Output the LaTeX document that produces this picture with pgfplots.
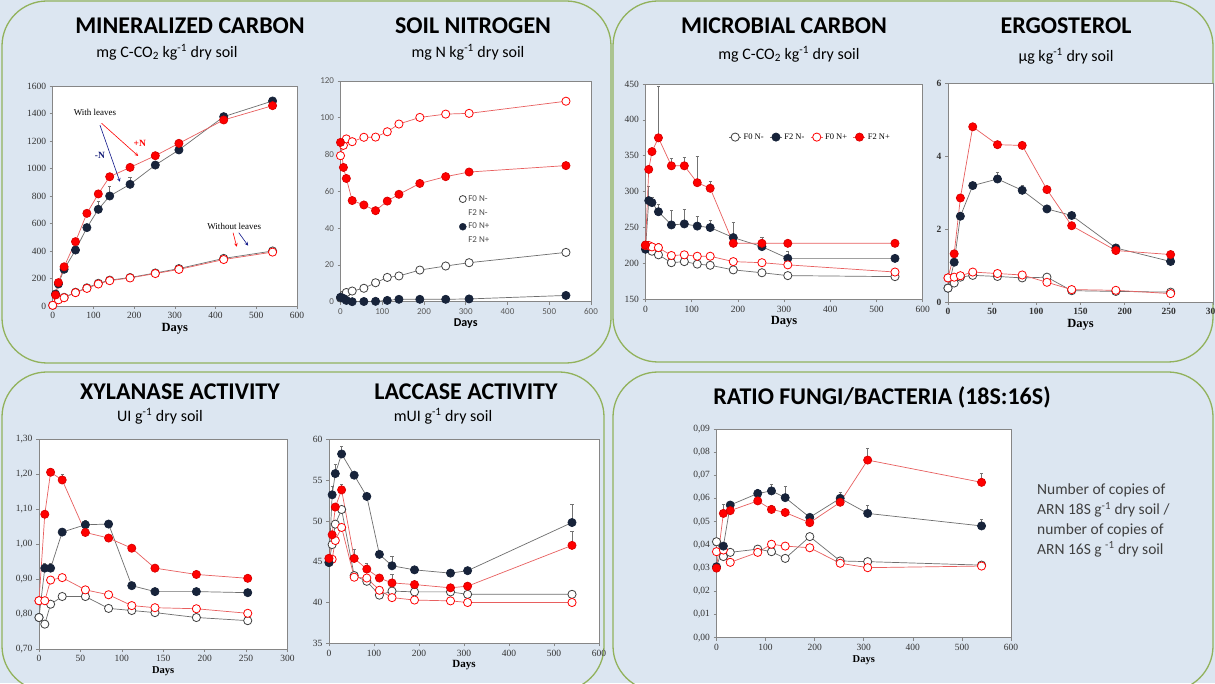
\documentclass[border=0pt]{standalone}
\usepackage{fontspec}
\setmainfont{Liberation Serif}
\newfontfamily\calibri{Carlito}
\usepackage{pgfplots}
\pgfplotsset{compat=1.18}
\definecolor{bg}{RGB}{220,230,241}
\definecolor{frame}{RGB}{146,178,92}
\definecolor{navy}{RGB}{23,35,58}
\definecolor{myred}{RGB}{255,0,0}
\definecolor{redline}{RGB}{232,95,95}
\definecolor{grayline}{RGB}{110,110,110}
\definecolor{axgray}{RGB}{134,134,134}
\pgfplotsset{
  base/.style={scale only axis, clip=false, axis background/.style={fill=white},
    axis line style={axgray, line width=0.8pt}, tick style={axgray, line width=0.6pt},
    tick align=outside, major tick length=3pt, xtick pos=left, ytick pos=left,
    ticklabel style={font=\fontsize{9.5}{10}\selectfont, text=black!80},
    /pgf/number format/assume math mode=true,
    xlabel={Days}, xlabel style={font=\fontsize{12.5}{13}\selectfont\bfseries, inner sep=1pt}},
  commanum/.style={scaled y ticks=false, yticklabel style={/pgf/number format/fixed, /pgf/number format/fixed zerofill, /pgf/number format/precision=2, /pgf/number format/use comma}},
  sO/.style={grayline, line width=0.7pt, mark=*, mark size=4.1pt, mark options={solid, fill=white, draw=black!75, line width=0.8pt}},
  sF/.style={grayline, line width=0.7pt, mark=*, mark size=4.1pt, mark options={solid, fill=navy, draw=navy}},
  rO/.style={redline, line width=0.7pt, mark=*, mark size=4.1pt, mark options={solid, fill=white, draw=myred, line width=0.8pt}},
  rF/.style={redline, line width=0.7pt, mark=*, mark size=4.1pt, mark options={solid, fill=myred, draw=myred!85!black}},
  eb/.style={forget plot, only marks, mark=none, error bars/.cd, y dir=plus, y explicit,
    error bar style={black!55, line width=0.6pt, solid},
    error mark options={rotate=90, mark size=1.6pt, black!55, line width=0.6pt}},
}
\begin{document}
\begin{tikzpicture}[x=1pt,y=1pt]
\fill[bg] (0,0) rectangle (1215,683);
\draw[frame, line width=1.3pt, rounded corners=45pt] (2,320) rectangle (611,682);
\draw[frame, line width=1.3pt, rounded corners=45pt] (613,321) rectangle (1213,682);
\draw[frame, line width=1.3pt, rounded corners=45pt] (2,-8) rectangle (604,311);
\draw[frame, line width=1.3pt, rounded corners=45pt] (613,-8) rectangle (1213,311);

% titles
\begin{scope}[every node/.style={font=\calibri\bfseries\fontsize{24}{24}\selectfont, inner sep=0pt}]
\node at (190,657) {MINERALIZED CARBON};
\node at (473,657) {SOIL NITROGEN};
\node at (784,657) {MICROBIAL CARBON};
\node at (1066,657) {ERGOSTEROL};
\node at (180,291) {XYLANASE ACTIVITY};
\node at (466,291) {LACCASE ACTIVITY};
\node at (882,286) {RATIO FUNGI/BACTERIA (18S:16S)};
\end{scope}
\begin{scope}[every node/.style={font=\calibri\fontsize{16}{16}\selectfont, inner sep=0pt}]
\node at (167,631) {mg C-CO\textsubscript{2} kg\textsuperscript{-1} dry soil};
\node at (468,631) {mg N kg\textsuperscript{-1} dry soil};
\node at (789,629) {mg C-CO\textsubscript{2} kg\textsuperscript{-1} dry soil};
\node at (1066,627) {µg kg\textsuperscript{-1} dry soil};
\node at (160,267) {UI g\textsuperscript{-1} dry soil};
\node at (443,267) {mUI g\textsuperscript{-1} dry soil};
\end{scope}
\node[anchor=north west, align=left, inner sep=0pt, text=black!75, font=\calibri\fontsize{15.5}{19.7}\selectfont] at (1037,199) {Number of copies of\\ARN 18S g\textsuperscript{-1} dry soil /\\number of copies of\\ARN 16S g \textsuperscript{-1} dry soil};

% ---------- P1 Mineralized carbon
\begin{axis}[base, at={(52.7pt,377pt)}, anchor=south west, width=244.3pt, height=220pt,
  xmin=0, xmax=600, ymin=0, ymax=1600, xtick={0,100,...,600}, ytick={0,200,...,1600},
  /pgf/number format/1000 sep={}]
\addplot[eb] coordinates {(112,703) +- (0,56) (140,800) +- (0,68) (190,885) +- (0,50)};
\addplot[sO] coordinates {(0,5) (14,48) (28,63) (56,100) (84,132) (112,165) (140,188) (190,207) (252,240) (310,272) (420,346) (540,400)};
\addplot[rO] coordinates {(0,5) (14,45) (28,60) (56,97) (84,128) (112,160) (140,184) (190,204) (252,236) (310,266) (420,338) (540,392)};
\addplot[sF] coordinates {(7,87) (14,160) (28,267) (56,407) (84,570) (112,703) (140,800) (190,885) (252,1025) (310,1135) (420,1377) (540,1491)};
\addplot[rF] coordinates {(7,80) (14,170) (28,285) (56,468) (84,674) (112,815) (140,940) (190,1008) (252,1093) (310,1183) (420,1353) (540,1457)};
\node[font=\fontsize{9}{10}\selectfont] at (axis cs:104,1404) {With leaves};
\node[font=\fontsize{9.5}{10}\selectfont\bfseries, text=myred] at (axis cs:214,1183) {+N};
\node[font=\fontsize{9.5}{10}\selectfont\bfseries, text=navy!70!blue] at (axis cs:116,1093) {-N};
\draw[->, >=stealth, navy!60!blue, line width=0.6pt] (axis cs:116,1316) -- (axis cs:165,904);
\draw[->, >=stealth, myred, line width=0.6pt] (axis cs:120,1329) -- (axis cs:210,1091);
\node[font=\fontsize{9}{10}\selectfont] at (axis cs:446,577) {Without leaves};
\draw[->, >=stealth, myred, line width=0.6pt] (axis cs:443,533) -- (axis cs:452,431);
\draw[->, >=stealth, navy!60!blue, line width=0.6pt] (axis cs:457,533) -- (axis cs:480,439);
\end{axis}

% ---------- P2 Soil nitrogen
\begin{axis}[base, at={(340.5pt,381.3pt)}, anchor=south west, width=250.5pt, height=220.7pt,
  xmin=0, xmax=600, ymin=0, ymax=120, xtick={0,100,...,600}, ytick={0,20,...,120},
  ticklabel style={font=\calibri\fontsize{9}{10}\selectfont, text=black!65},
  xlabel style={font=\calibri\bfseries\fontsize{12}{13}\selectfont},
  legend cell align=left,
  legend style={at={(axis cs:272,59)}, anchor=north west, draw=none, fill=none,
    font=\calibri\fontsize{9}{10}\selectfont, text=black!70, row sep=2.5pt, inner sep=0pt}]
\addplot[rO, forget plot] coordinates {(0,79.4) (7,85) (14,88.5) (28,87) (56,89.4) (84,89.5) (112,92.4) (140,96.6) (190,100.2) (252,102) (308,102.4) (540,109)};
\addplot[rF, forget plot] coordinates {(0,86.6) (7,73) (14,67) (28,55) (56,52.6) (84,49.5) (112,54.7) (140,58.4) (190,64.3) (252,68) (308,70.5) (540,74)};
\addplot[sO, forget plot] coordinates {(0,2) (7,3.6) (14,5) (28,5.8) (56,7.3) (84,10.3) (112,13.2) (140,14) (190,17.2) (252,19.4) (308,21.2) (540,26.8)};
\addplot[sF, forget plot] coordinates {(0,2.4) (7,1.8) (14,0.7) (28,0) (56,0.1) (84,0.2) (112,0.7) (140,1.3) (190,1.3) (252,1.3) (308,1.5) (540,3.4)};
\addlegendimage{only marks, mark=*, mark size=3.5pt, mark options={fill=white, draw=black!75, line width=0.8pt}}
\addlegendentry{F0 N-}
\addlegendimage{empty legend}
\addlegendentry{F2 N-}
\addlegendimage{only marks, mark=*, mark size=3.5pt, mark options={fill=navy, draw=navy}}
\addlegendentry{F0 N+}
\addlegendimage{empty legend}
\addlegendentry{F2 N+}
\end{axis}

% ---------- P3 Microbial carbon
\begin{axis}[base, at={(645.5pt,383.7pt)}, anchor=south west, width=277.2pt, height=215.3pt,
  xmin=0, xmax=600, ymin=150, ymax=450, xtick={0,100,...,600}, ytick={150,200,...,450},
  legend columns=4,
  legend image code/.code={\draw[mark repeat=2,mark phase=2,#1] plot coordinates {(0pt,0pt) (6pt,0pt) (12pt,0pt)};},
  legend style={at={(axis cs:180,376)}, anchor=west, draw=none, fill=none,
    font=\fontsize{8.5}{9}\selectfont, inner sep=0pt,
    /tikz/every even column/.append style={column sep=4pt}}]
\addplot[eb] coordinates {(7,287.5) +- (0,20.5) (14,284.7) +- (0,8) (28,272) +- (0,10) (56,253.6) +- (0,20.4) (84,255) +- (0,20) (112,252) +- (0,13) (140,250) +- (0,10) (190,236) +- (0,21) (252,223.4) +- (0,13.6) (308,207) +- (0,10)};
\addplot[eb] coordinates {(28,375) +- (0,72) (56,336) +- (0,11) (84,336) +- (0,12) (112,312.5) +- (0,36.5) (140,304.7) +- (0,9.3)};
\addplot[eb] coordinates {(14,223) +- (0,5) (28,222) +- (0,6) (56,211) +- (0,4) (540,188) +- (0,5)};
\addplot[sO] coordinates {(0,225) (7,221) (14,217) (28,212) (56,201) (84,202.5) (112,199) (140,197.4) (190,191) (252,187) (308,183) (540,181.6)};
\addlegendentry{F0 N-}
\addplot[sF] coordinates {(0,219.7) (7,287.5) (14,284.7) (28,272) (56,253.6) (84,255) (112,252) (140,250) (190,236) (252,223.4) (308,207) (540,207)};
\addlegendentry{F2 N-}
\addplot[rO] coordinates {(0,225) (7,225) (14,223) (28,222) (56,211) (84,212) (112,210) (140,210) (190,202.5) (252,201) (308,198) (540,188)};
\addlegendentry{F0 N+}
\addplot[rF] coordinates {(0,225.7) (7,331) (14,355.8) (28,375) (56,336) (84,336) (112,312.5) (140,304.7) (190,228) (252,228) (308,228) (540,228)};
\addlegendentry{F2 N+}
\end{axis}

% ---------- P4 Ergosterol
\begin{axis}[base, at={(948pt,381pt)}, anchor=south west, width=265pt, height=219pt,
  xmin=0, xmax=300, ymin=0, ymax=6, xtick={0,50,...,300}, ytick={0,2,4,6},
  ticklabel style={font=\fontsize{9.5}{10}\selectfont\bfseries, text=black!80}]
\addplot[eb] coordinates {(56,3.37) +- (0,0.18) (84,3.06) +- (0,0.14)};
\addplot[sF] coordinates {(0,0.38) (7,1.09) (14,2.35) (28,3.19) (56,3.37) (84,3.06) (112,2.55) (140,2.37) (190,1.48) (252,1.11)};
\addplot[rF] coordinates {(0,0.66) (7,1.32) (14,2.85) (28,4.8) (56,4.31) (84,4.29) (112,3.08) (140,2.09) (190,1.41) (252,1.30)};
\addplot[sO] coordinates {(0,0.38) (7,0.52) (14,0.68) (28,0.73) (56,0.70) (84,0.66) (112,0.68) (140,0.31) (190,0.29) (252,0.27)};
\addplot[rO] coordinates {(0,0.66) (7,0.68) (14,0.72) (28,0.82) (56,0.78) (84,0.74) (112,0.54) (140,0.34) (190,0.32) (252,0.23)};
\end{axis}

% ---------- P5 Xylanase
\begin{axis}[base, commanum, at={(39pt,34pt)}, anchor=south west, width=248.5pt, height=210pt,
  xmin=0, xmax=300, ymin=0.7, ymax=1.3, xtick={0,50,...,300}, ytick={0.7,0.8,0.9,1.0,1.1,1.2,1.3},
  xlabel style={font=\fontsize{10.5}{11}\selectfont\bfseries}]
\addplot[eb] coordinates {(7,0.931) +- (0,0.014) (14,0.931) +- (0,0.014) (56,1.055) +- (0,0.012) (84,1.057) +- (0,0.012)};
\addplot[eb] coordinates {(14,1.205) +- (0,0.012) (28,1.183) +- (0,0.017)};
\addplot[sF] coordinates {(0,0.79) (7,0.931) (14,0.931) (28,1.034) (56,1.055) (84,1.057) (112,0.881) (140,0.864) (190,0.864) (252,0.861)};
\addplot[rF] coordinates {(0,0.838) (7,1.085) (14,1.205) (28,1.183) (56,1.033) (84,1.017) (112,0.988) (140,0.931) (190,0.913) (252,0.902)};
\addplot[sO] coordinates {(0,0.79) (7,0.771) (14,0.828) (28,0.85) (56,0.85) (84,0.816) (112,0.81) (140,0.804) (190,0.79) (252,0.781)};
\addplot[rO] coordinates {(0,0.838) (7,0.838) (14,0.897) (28,0.904) (56,0.869) (84,0.855) (112,0.824) (140,0.818) (190,0.815) (252,0.802)};
\end{axis}

% ---------- P6 Laccase
\begin{axis}[base, at={(329pt,39.7pt)}, anchor=south west, width=270pt, height=204pt,
  xmin=0, xmax=600, ymin=35, ymax=60, xtick={0,100,...,600}, ytick={35,40,...,60},
  xlabel style={font=\fontsize{11}{12}\selectfont\bfseries}]
\addplot[eb] coordinates {(7,53.2) +- (0,1) (14,55.8) +- (0,1.1) (28,58.2) +- (0,0.9) (140,44.5) +- (0,1.2) (540,49.8) +- (0,2.2)};
\addplot[eb] coordinates {(28,53.8) +- (0,0.7) (56,45.4) +- (0,1.1) (84,44.1) +- (0,0.7) (140,42.4) +- (0,1) (540,47.0) +- (0,1.7)};
\addplot[sO] coordinates {(0,44.9) (7,47.1) (14,49.6) (28,51.4) (56,43.3) (84,42.6) (112,40.9) (140,41.4) (190,41.3) (270,41.3) (308,41.0) (540,41.0)};
\addplot[rO] coordinates {(0,45.4) (7,45.3) (14,47.6) (28,49.2) (56,43.1) (84,43.0) (112,41.5) (140,40.6) (190,40.3) (270,40.2) (308,40.0) (540,40.0)};
\addplot[sF] coordinates {(0,44.9) (7,53.2) (14,55.8) (28,58.2) (56,55.6) (84,53.0) (112,45.9) (140,44.5) (190,44.0) (270,43.6) (308,43.9) (540,49.8)};
\addplot[rF] coordinates {(0,45.4) (7,48.3) (14,51.7) (28,53.8) (56,45.4) (84,44.1) (112,43.0) (140,42.4) (190,42.2) (270,41.8) (308,42.0) (540,47.0)};
\end{axis}

% ---------- P7 Ratio
\begin{axis}[base, commanum, at={(716.5pt,45.3pt)}, anchor=south west, width=294.5pt, height=208.7pt,
  xmin=0, xmax=600, ymin=0, ymax=0.09, xtick={0,100,...,600}, ytick={0,0.01,0.02,0.03,0.04,0.05,0.06,0.07,0.08,0.09},
  xlabel style={font=\fontsize{10.5}{11}\selectfont\bfseries}]
\addplot[eb] coordinates {(84,0.0622) +- (0,0.0018) (112,0.0633) +- (0,0.0027) (140,0.0604) +- (0,0.0051) (252,0.0601) +- (0,0.0024) (308,0.0536) +- (0,0.0034) (540,0.0482) +- (0,0.0028)};
\addplot[eb] coordinates {(14,0.0536) +- (0,0.004) (112,0.0553) +- (0,0.0018) (308,0.0766) +- (0,0.0049) (540,0.067) +- (0,0.004)};
\addplot[sO] coordinates {(0,0.0414) (14,0.035) (28,0.0368) (84,0.0382) (112,0.0371) (140,0.0342) (190,0.0436) (252,0.0331) (308,0.0328) (540,0.0313)};
\addplot[rO] coordinates {(0,0.0371) (14,0.0378) (28,0.0325) (84,0.0368) (112,0.0403) (140,0.0395) (190,0.0388) (252,0.0321) (308,0.0302) (540,0.0309)};
\addplot[sF] coordinates {(0,0.0306) (14,0.0395) (28,0.0572) (84,0.0622) (112,0.0633) (140,0.0604) (190,0.0519) (252,0.0601) (308,0.0536) (540,0.0482)};
\addplot[rF] coordinates {(0,0.030) (14,0.0536) (28,0.0548) (84,0.059) (112,0.0553) (140,0.054) (190,0.0496) (252,0.0584) (308,0.0766) (540,0.067)};
\end{axis}

\pgfresetboundingbox
\useasboundingbox (0,0) rectangle (1215,683);
\end{tikzpicture}
\end{document}
